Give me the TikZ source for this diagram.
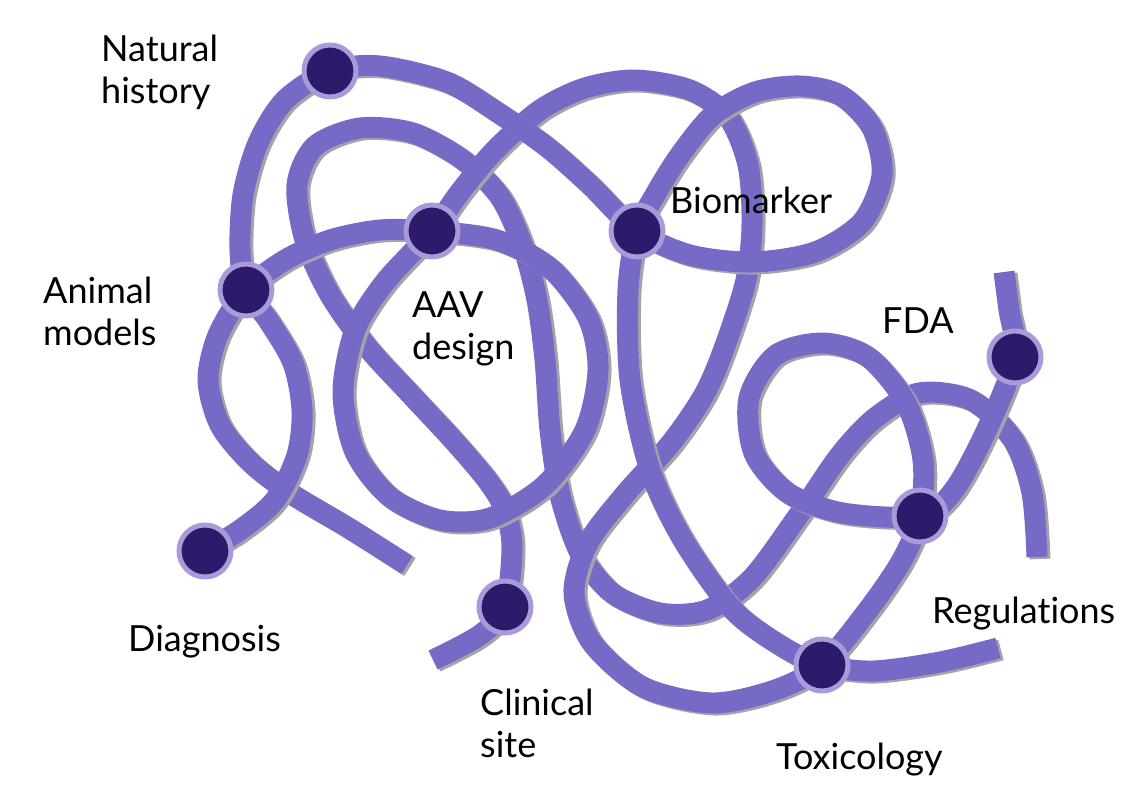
\documentclass[tikz,border=0pt]{standalone}
\usepackage{fontspec}
\setmainfont{Lato}[RawFeature=-liga]
\definecolor{ropec}{HTML}{766AC7}
\definecolor{ropesh}{HTML}{A3A3AB}
\definecolor{dotin}{HTML}{2E1A6A}
\definecolor{dotring}{HTML}{A99BDA}
\tikzset{
 rope/.style={draw=ropec, line width=21pt},
 ropeshadow/.style={draw=ropesh, line width=21pt},
 knot/.style={circle, fill=dotin, draw=dotring, line width=5pt, minimum size=52pt, inner sep=0pt},
 lbl/.style={anchor=west, align=left, inner sep=0pt, font=\fontsize{36}{42}\selectfont, text=black},
}
\newcommand\ropestrand[1]{%
 \begin{scope}[transform canvas={xshift=3pt,yshift=-2pt}]\draw[ropeshadow] plot[smooth] coordinates {#1};\end{scope}
 \draw[rope] plot[smooth] coordinates {#1};}
\begin{document}
\begin{tikzpicture}[x=1pt,y=-1pt]
\useasboundingbox[fill=white] (0,0) rectangle (1145,801);
\coordinate (cdia) at (205,551);
\coordinate (cam) at (246,290);
\coordinate (cnh) at (330,71);
\coordinate (caav) at (432,231);
\coordinate (cbio) at (637,231);
\coordinate (cfda) at (1015,357);
\coordinate (creg) at (920,516);
\coordinate (ctox) at (822,665);
\coordinate (ccli) at (505,607);
% strand Z (clinical site)
\ropestrand{(433,660) (480,635) (ccli) (512,547) (505,510) (487,480) (453,440) (413,397) (367,347) (330,295) (305,240) (297,185) (315,146) (360,128) (413,133) (463,160) (500,197) (523,247) (537,300) (545,360) (550,430) (560,495) (580,553) (612,593) (660,613) (707,610) (752,578) (800,513) (840,455) (875,418) (919,393) (971,400) (1013,440) (1032,493) (1037,557)}
% strand Y
\ropestrand{(407,565) (347,527) (290,493) (250,462) (220,425) (208,380) (218,335) (cam) (285,260) (330,240) (380,230) (caav) (497,240) (550,268) (588,318) (598,370) (585,430) (545,485) (490,518) (440,520) (390,497) (355,452) (343,392) (355,330) (385,282) (caav) (460,192) (495,150) (540,110) (585,88) (635,80) (690,90) (728,117) (748,165) (752,225) (746,280) (726,343) (705,393) (671,443) (626,493) (588,543) (574,593) (592,643) (643,687) (712,703) (775,690) (ctox) (868,610) (902,560) (creg) (923,460) (906,403) (868,357) (823,343) (776,355) (749,398) (754,453) (788,493) (843,513) (creg) (954,490) (988,427) (cfda) (1009,310) (1004,272)}
% strand X
\ropestrand{(cdia) (240,530) (275,500) (297,455) (302,410) (293,363) (268,320) (cam) (240,250) (243,195) (258,143) (285,100) (cnh) (380,66) (447,82) (497,112) (547,147) (590,185) (cbio) (690,255) (753,262) (815,252) (862,222) (882,175) (872,128) (840,95) (800,86) (755,92) (713,115) (680,155) (655,195) (cbio) (628,290) (630,380) (650,470) (683,540) (733,610) (783,647) (ctox) (873,671) (940,662) (998,648)}
% knots
\node[knot] (dia) at (cdia) {};
\node[knot] (am) at (cam) {};
\node[knot] (nh) at (cnh) {};
\node[knot] (aav) at (caav) {};
\node[knot] (bio) at (cbio) {};
\node[knot] (fda) at (cfda) {};
\node[knot] (reg) at (creg) {};
\node[knot] (tox) at (ctox) {};
\node[knot] (cli) at (ccli) {};
% labels
\node[lbl] (lnh) at (101,72) {Natural\\history};
\node[lbl] (lam) at (43,311) {Animal\\models};
\node[lbl] (laav) at (412,329) {AAV\\design};
\node[lbl] (lbio) at (670,200) {Biomarker};
\node[lbl] (lfda) at (882,321) {FDA};
\node[lbl] (ldia) at (128,642) {Diagnosis};
\node[lbl] (lcli) at (480,723) {Clinical\\site};
\node[lbl] (lreg) at (932,614) {Regulations};
\node[lbl] (ltox) at (776,760) {Toxicology};
\end{tikzpicture}
\end{document}
